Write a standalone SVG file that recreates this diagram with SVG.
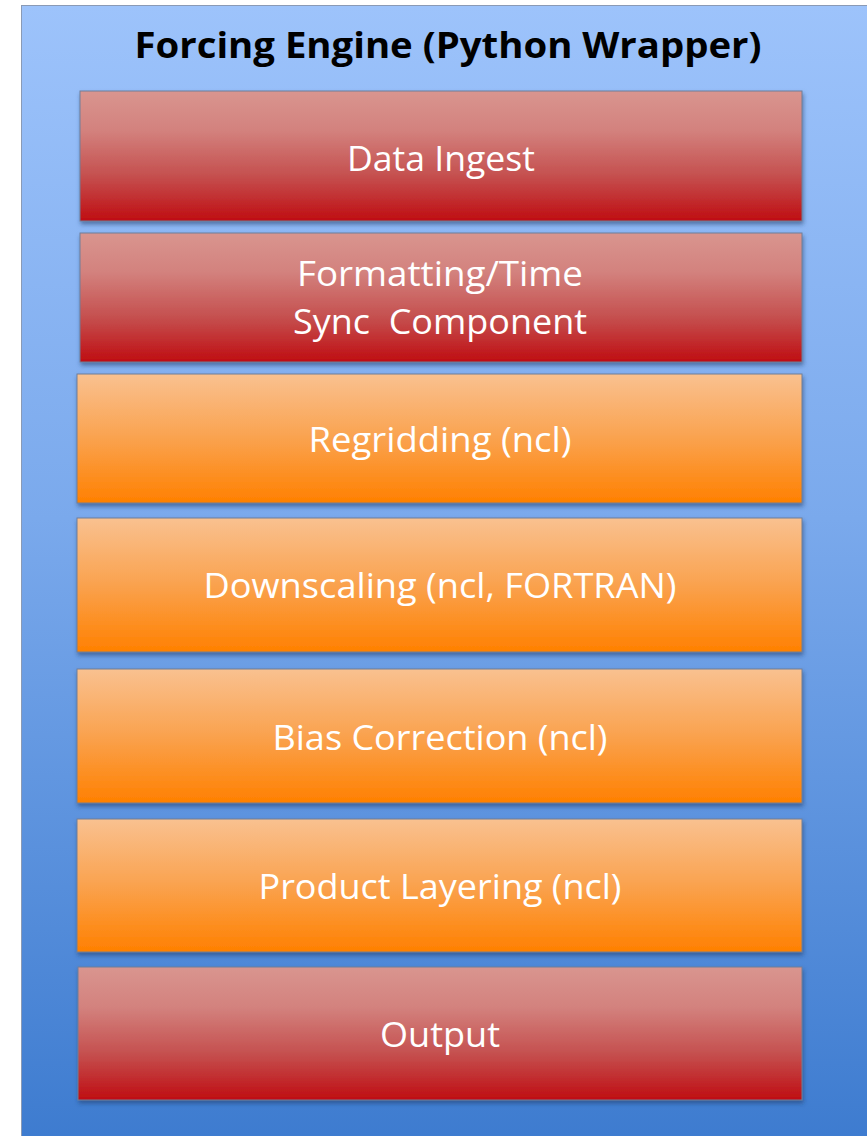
<svg xmlns="http://www.w3.org/2000/svg" width="867" height="1136" viewBox="0 0 867 1136">
  <defs>
    <linearGradient id="gOuter" x1="0" y1="0" x2="0" y2="1">
      <stop offset="0" stop-color="#9dc3fb"/>
      <stop offset="0.45" stop-color="#7aa9ec"/>
      <stop offset="1" stop-color="#3d7bcf"/>
    </linearGradient>
    <linearGradient id="gRed" x1="0" y1="0" x2="0" y2="1">
      <stop offset="0" stop-color="#d9958f"/>
      <stop offset="0.3" stop-color="#d3827e"/>
      <stop offset="0.65" stop-color="#c5504f"/>
      <stop offset="1" stop-color="#bf0d12"/>
    </linearGradient>
    <linearGradient id="gOrange" x1="0" y1="0" x2="0" y2="1">
      <stop offset="0" stop-color="#f9c190"/>
      <stop offset="0.5" stop-color="#faa24e"/>
      <stop offset="1" stop-color="#ff8000"/>
    </linearGradient>
    <filter id="shadow" x="-5%" y="-10%" width="110%" height="125%">
      <feDropShadow dx="1" dy="3" stdDeviation="2" flood-color="#1f3a66" flood-opacity="0.55"/>
    </filter>
  </defs>
  <style>
    .box { stroke: #6f7f99; stroke-width: 1; filter: url(#shadow); }
    .red { fill: url(#gRed); }
    .orange { fill: url(#gOrange); }
    .lbl { font-family: "Open Sans", "Liberation Sans", sans-serif; font-size: 35px; fill: #ffffff; text-anchor: middle; }
    .title { font-family: "Open Sans", "Liberation Sans", sans-serif; font-size: 35px; font-weight: bold; fill: #000000; text-anchor: middle; }
  </style>
  <rect x="0" y="0" width="867" height="1136" fill="#ffffff"/>
  <g id="container">
    <rect x="21.5" y="5.5" width="850" height="1140" fill="url(#gOuter)" stroke="#8a9ab5" stroke-width="1"/>
    <text class="title" x="448" y="58" textLength="627" lengthAdjust="spacingAndGlyphs">Forcing Engine (Python Wrapper)</text>
  </g>
  <g id="connectors"></g>
  <g id="data-ingest">
    <rect class="box red" x="80" y="91" width="722" height="130"/>
    <text class="lbl" x="441" y="171" textLength="188" lengthAdjust="spacingAndGlyphs">Data Ingest</text>
  </g>
  <g id="formatting">
    <rect class="box red" x="80" y="233" width="722" height="129"/>
    <text class="lbl" x="440" y="286" textLength="286" lengthAdjust="spacingAndGlyphs">Formatting/Time</text>
    <text class="lbl" x="440" y="334" textLength="294" lengthAdjust="spacingAndGlyphs" xml:space="preserve">Sync  Component</text>
  </g>
  <g id="regridding">
    <rect class="box orange" x="77" y="374" width="725" height="129"/>
    <text class="lbl" x="440" y="452" textLength="263" lengthAdjust="spacingAndGlyphs">Regridding (ncl)</text>
  </g>
  <g id="downscaling">
    <rect class="box orange" x="77" y="518" width="725" height="134"/>
    <text class="lbl" x="440" y="598" textLength="473" lengthAdjust="spacingAndGlyphs">Downscaling (ncl, FORTRAN)</text>
  </g>
  <g id="bias-correction">
    <rect class="box orange" x="77" y="669" width="725" height="134"/>
    <text class="lbl" x="440" y="750" textLength="335" lengthAdjust="spacingAndGlyphs">Bias Correction (ncl)</text>
  </g>
  <g id="product-layering">
    <rect class="box orange" x="77" y="819" width="725" height="133"/>
    <text class="lbl" x="440" y="899" textLength="363" lengthAdjust="spacingAndGlyphs">Product Layering (ncl)</text>
  </g>
  <g id="output">
    <rect class="box red" x="78" y="967" width="724" height="133"/>
    <text class="lbl" x="440" y="1047" textLength="120" lengthAdjust="spacingAndGlyphs">Output</text>
  </g>
</svg>
